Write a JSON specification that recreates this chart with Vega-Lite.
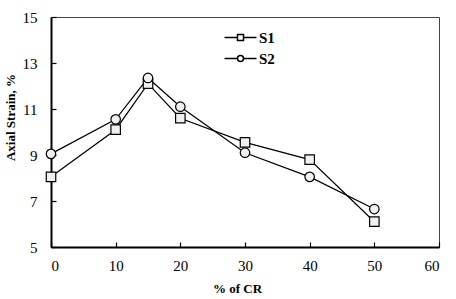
{
  "$schema": "https://vega.github.io/schema/vega-lite/v6.json",
  "width": 388,
  "height": 230,
  "autosize": {"type": "none"},
  "padding": {"left": 51, "top": 17, "right": 17, "bottom": 52},
  "background": "white",
  "config": {
    "view": {"stroke": "#444", "strokeWidth": 1},
    "font": "Liberation Serif",
    "axis": {
      "grid": false,
      "domainColor": "black",
      "domainWidth": 2,
      "tickColor": "black",
      "tickWidth": 1.2,
      "tickSize": -5,
      "labelFont": "Liberation Serif",
      "labelFontSize": 15,
      "labelColor": "black",
      "titleFont": "Liberation Serif",
      "titleFontSize": 13,
      "titleFontWeight": "bold",
      "titleColor": "black"
    }
  },
  "data": {
    "values": [
      {"cr": 0, "strain": 8.05, "series": "S1"},
      {"cr": 10, "strain": 10.1, "series": "S1"},
      {"cr": 15, "strain": 12.1, "series": "S1"},
      {"cr": 20, "strain": 10.6, "series": "S1"},
      {"cr": 30, "strain": 9.55, "series": "S1"},
      {"cr": 40, "strain": 8.8, "series": "S1"},
      {"cr": 50, "strain": 6.1, "series": "S1"},
      {"cr": 0, "strain": 9.05, "series": "S2"},
      {"cr": 10, "strain": 10.55, "series": "S2"},
      {"cr": 15, "strain": 12.35, "series": "S2"},
      {"cr": 20, "strain": 11.1, "series": "S2"},
      {"cr": 30, "strain": 9.1, "series": "S2"},
      {"cr": 40, "strain": 8.05, "series": "S2"},
      {"cr": 50, "strain": 6.65, "series": "S2"}
    ]
  },
  "encoding": {
    "x": {
      "field": "cr", "type": "quantitative",
      "scale": {"domain": [0, 60], "nice": false},
      "axis": {"values": [0, 10, 20, 30, 40, 50, 60], "title": "% of CR", "labelPadding": 16, "titlePadding": 9, "titleX": 186}
    },
    "y": {
      "field": "strain", "type": "quantitative",
      "scale": {"domain": [5, 15], "nice": false, "zero": false},
      "axis": {"values": [5, 7, 9, 11, 13, 15], "title": "Axial Strain, %", "labelPadding": 19, "titlePadding": 5, "titleY": 100}
    }
  },
  "layer": [
    {
      "mark": {"type": "line", "color": "black", "strokeWidth": 1.2},
      "encoding": {"detail": {"field": "series", "type": "nominal"}}
    },
    {
      "mark": {"type": "point", "filled": true, "fill": "#f0f0f0", "stroke": "black", "strokeWidth": 1.2, "opacity": 1, "size": 90},
      "encoding": {
        "shape": {
          "field": "series", "type": "nominal",
          "scale": {"domain": ["S1", "S2"], "range": ["square", "circle"]},
          "legend": null
        }
      }
    },
    {
      "mark": {"type": "point", "filled": false, "opacity": 0, "size": 36, "stroke": "black"},
      "encoding": {
        "shape": {
          "field": "series", "type": "nominal",
          "scale": {"domain": ["S1", "S2"], "range": ["M-5.33,0H-1M1,0H5.33M-1,-1H1V1H-1Z", "M-5.33,0H-1M1,0H5.33M1,0A1,1 0 1,1 -1,0A1,1 0 1,1 1,0Z"]},
          "legend": {
            "title": null,
            "orient": "none",
            "legendX": 182,
            "legendY": 13,
            "labelFont": "Liberation Serif",
            "labelFontSize": 15,
            "labelFontWeight": "bold",
            "labelColor": "black",
            "rowPadding": 5,
            "symbolSize": 36,
            "labelOffset": 11,
            "encode": {
              "symbols": {
                "stroke": {"value": "black"},
                "strokeWidth": {"value": 1.2},
                "fill": {"value": "#f0f0f0"},
                "opacity": {"value": 1},
                "strokeOpacity": {"value": 1},
                "fillOpacity": {"value": 1}
              }
            }
          }
        }
      }
    }
  ],
  "resolve": {"scale": {"shape": "independent"}}
}
